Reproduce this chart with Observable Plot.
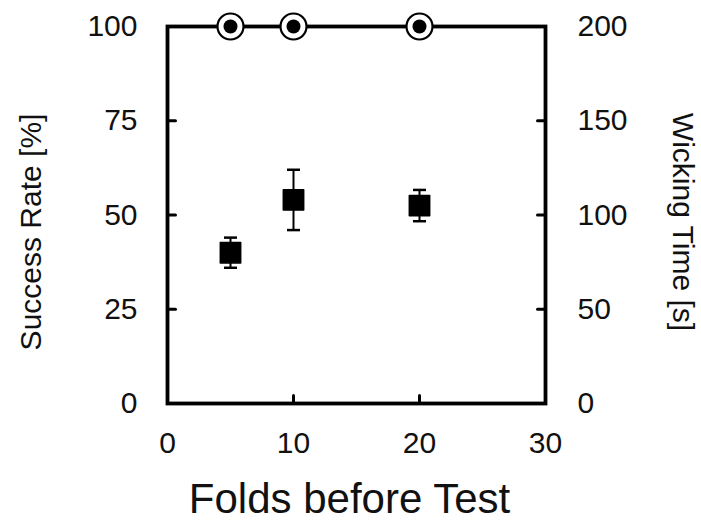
<!DOCTYPE html>
<html>
<head>
<meta charset="utf-8">
<script src="https://cdn.jsdelivr.net/npm/d3@7"></script>
<script src="https://cdn.jsdelivr.net/npm/@observablehq/plot@0.6"></script>
<style>
  html, body { margin: 0; padding: 0; background: #fff; }
  #chart svg { display: block; }
</style>
</head>
<body>
<div id="chart"></div>
<script>
// Data
const folds = [5, 10, 20];
const successRate = [100, 100, 100];           // % (left axis)
const wickingTime = [80, 108, 105];            // s (right axis)
const wickingErr = [8, 16, 8.3];               // s

// Axis ticks / labels
const xTicks = [0, 10, 20, 30];
const leftTicks = [0, 25, 50, 75, 100];
const rightTicks = [0, 50, 100, 150, 200];
const xInnerTicks = [10, 20];
const leftInnerTicks = [25, 50, 75];
const rightInnerTicks = [50, 100, 150];
const rightMax = 200;
const leftMax = 100;

const xLabel = "Folds before Test";
const leftLabel = "Success Rate [%]";
const rightLabel = "Wicking Time [s]";

const rows = folds.map((f, i) => ({f, s: successRate[i], t: wickingTime[i], e: wickingErr[i]}));
const toLeft = v => v * leftMax / rightMax;

const tickShape = {draw(context, l) { context.moveTo(0, 0); context.lineTo(0, -l); }};
const capSymbol = {draw(context) { context.moveTo(-6.5, 0); context.lineTo(6.5, 0); }};

const font = "'Liberation Sans', Arial, sans-serif";
const ink = "#111";

const chart = Plot.plot({
  width: 701,
  height: 523,
  marginTop: 26,
  marginBottom: 120,
  marginLeft: 167,
  marginRight: 156,
  style: {fontFamily: font, color: ink, background: "#fff"},
  x: {domain: [0, 30]},
  y: {domain: [0, 100]},
  marks: [
    // tick labels
    Plot.axisX(xTicks, {tickSize: 0, tickPadding: 28, fontSize: 30, label: null}),
    Plot.axisY(leftTicks, {anchor: "left", tickSize: 0, tickPadding: 30, fontSize: 30, label: null}),
    Plot.text(rightTicks, {y: d => toLeft(d), frameAnchor: "right", text: d => String(d), dx: 32, textAnchor: "start", fontSize: 30, fill: ink}),
    // inward ticks
    Plot.vector(xInnerTicks, {x: d => d, frameAnchor: "bottom", rotate: 0, length: 8, anchor: "start", shape: tickShape, stroke: "black", strokeWidth: 3}),
    Plot.vector(leftInnerTicks, {y: d => d, frameAnchor: "left", rotate: 90, length: 8, anchor: "start", shape: tickShape, stroke: "black", strokeWidth: 3}),
    Plot.vector(rightInnerTicks, {y: d => toLeft(d), frameAnchor: "right", rotate: -90, length: 8, anchor: "start", shape: tickShape, stroke: "black", strokeWidth: 3}),
    // frame
    Plot.frame({stroke: "black", strokeWidth: 3.8}),
    // axis titles
    Plot.text([xLabel], {frameAnchor: "bottom", dx: -7, dy: 109, fontSize: 42, fill: ink, textAnchor: "middle", lineAnchor: "bottom"}),
    Plot.text([leftLabel], {frameAnchor: "left", dx: -136, dy: 17, rotate: -90, fontSize: 30, fill: ink, textAnchor: "middle", lineAnchor: "middle", letterSpacing: "-0.5px"}),
    Plot.text([rightLabel], {frameAnchor: "right", dx: 137, dy: 7, rotate: 90, fontSize: 30, fill: ink, textAnchor: "middle", lineAnchor: "middle", letterSpacing: "-0.5px"}),
    // wicking time error bars
    Plot.ruleX(rows, {x: "f", y1: d => toLeft(d.t - d.e), y2: d => toLeft(d.t + d.e), stroke: "black", strokeWidth: 2}),
    Plot.dot(rows, {x: "f", y: d => toLeft(d.t - d.e), symbol: capSymbol, stroke: "black", strokeWidth: 2.5, fill: "none"}),
    Plot.dot(rows, {x: "f", y: d => toLeft(d.t + d.e), symbol: capSymbol, stroke: "black", strokeWidth: 2.5, fill: "none"}),
    Plot.dot(rows, {x: "f", y: d => toLeft(d.t), symbol: "square", r: 11.5, fill: "black", stroke: "black", strokeWidth: 1.5, strokeLinejoin: "round"}),
    // success rate markers
    Plot.dot(rows, {x: "f", y: "s", r: 13, fill: "white", stroke: "black", strokeWidth: 2.2}),
    Plot.dot(rows, {x: "f", y: "s", r: 7, fill: "black", stroke: "none"})
  ]
});
document.getElementById("chart").appendChild(chart);
</script>
</body>
</html>
